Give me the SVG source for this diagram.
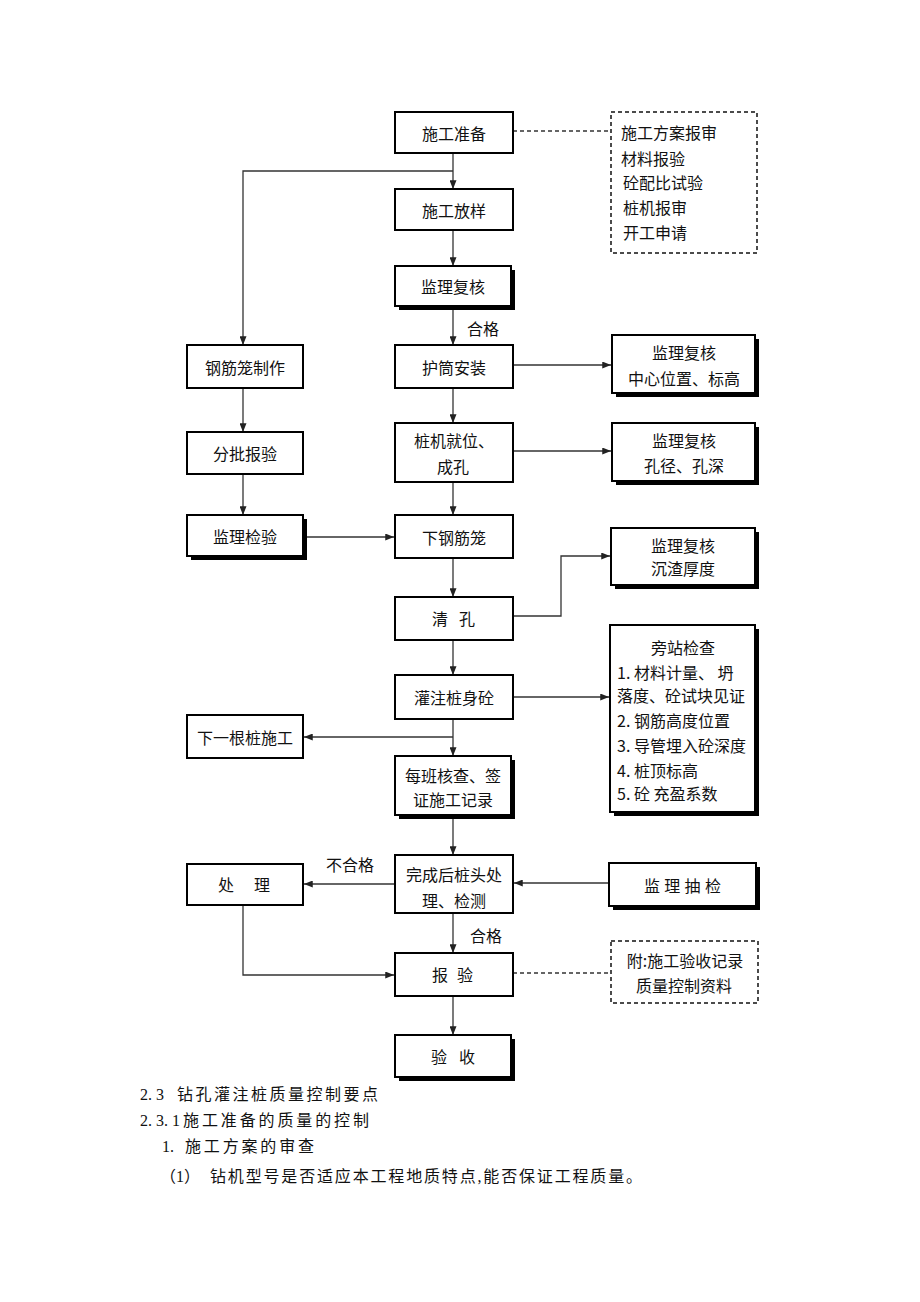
<svg xmlns="http://www.w3.org/2000/svg" width="920" height="1302" viewBox="0 0 920 1302">
<style>
.box{fill:#fff;stroke:#000;stroke-width:2}
.sh{fill:#000}
.dbox{fill:#fff;stroke:#111;stroke-width:1.5;stroke-dasharray:4 3}
.t{font-family:"Noto Sans CJK SC","Liberation Sans",sans-serif;font-size:16px;fill:#111;dominant-baseline:central}
.c{text-anchor:middle}
.ln{fill:none;stroke:#333;stroke-width:1.3}
.dl{fill:none;stroke:#333;stroke-width:1.3;stroke-dasharray:4 3}
.b{font-family:"Liberation Serif","Noto Sans CJK SC",serif;font-size:16px;fill:#111;dominant-baseline:central}
</style>
<defs>
<marker id="arr" viewBox="0 0 10 8" refX="10" refY="4" markerWidth="9" markerHeight="7" markerUnits="userSpaceOnUse" orient="auto">
<path d="M0,0 L10,4 L0,8 z" fill="#222"/>
</marker>
</defs>
<rect width="920" height="1302" fill="#fff"/>

<g id="connectors">
<line class="ln" x1="453" y1="153" x2="453" y2="189" marker-end="url(#arr)"/>
<polyline class="ln" points="453,171 243,171 243,345" marker-end="url(#arr)"/>
<line class="ln" x1="453" y1="230" x2="453" y2="266" marker-end="url(#arr)"/>
<line class="ln" x1="453" y1="306" x2="453" y2="345" marker-end="url(#arr)"/>
<line class="ln" x1="453" y1="388" x2="453" y2="423" marker-end="url(#arr)"/>
<line class="ln" x1="453" y1="482" x2="453" y2="515" marker-end="url(#arr)"/>
<line class="ln" x1="453" y1="558" x2="453" y2="597" marker-end="url(#arr)"/>
<line class="ln" x1="453" y1="640" x2="453" y2="675" marker-end="url(#arr)"/>
<line class="ln" x1="453" y1="719" x2="453" y2="756" marker-end="url(#arr)"/>
<line class="ln" x1="453" y1="737" x2="304" y2="737" marker-end="url(#arr)"/>
<line class="ln" x1="453" y1="815" x2="453" y2="855" marker-end="url(#arr)"/>
<line class="ln" x1="395" y1="884" x2="304" y2="884" marker-end="url(#arr)"/>
<line class="ln" x1="453" y1="913" x2="453" y2="953" marker-end="url(#arr)"/>
<polyline class="ln" points="243,905 243,975 394,975" marker-end="url(#arr)"/>
<line class="ln" x1="453" y1="996" x2="453" y2="1035" marker-end="url(#arr)"/>
<line class="ln" x1="243" y1="388" x2="243" y2="432" marker-end="url(#arr)"/>
<line class="ln" x1="243" y1="474" x2="243" y2="515" marker-end="url(#arr)"/>
<line class="ln" x1="307" y1="537" x2="394" y2="537" marker-end="url(#arr)"/>
<line class="ln" x1="513" y1="365" x2="611" y2="365" marker-end="url(#arr)"/>
<line class="ln" x1="513" y1="451" x2="611" y2="451" marker-end="url(#arr)"/>
<polyline class="ln" points="513,616 561,616 561,556 610,556" marker-end="url(#arr)"/>
<line class="ln" x1="513" y1="697" x2="609" y2="697" marker-end="url(#arr)"/>
<line class="ln" x1="609" y1="883" x2="514" y2="883" marker-end="url(#arr)"/>
<line class="dl" x1="513" y1="131" x2="611" y2="131"/>
<line class="dl" x1="513" y1="973" x2="611" y2="973"/>
<text class="t" x="467" y="328">合格</text>
<text class="t" x="470" y="935">合格</text>
<text class="t" x="326" y="864">不合格</text>
</g>

<g id="n-prep">
<rect class="box" x="395" y="112" width="118" height="41"/>
<text class="t c" x="454" y="133">施工准备</text>
</g>
<g id="n-prep-note">
<rect class="dbox" x="611" y="112" width="146" height="141"/>
<text class="t" x="621" y="132">施工方案报审</text>
<text class="t" x="621" y="158">材料报验</text>
<text class="t" x="623" y="182">砼配比试验</text>
<text class="t" x="623" y="207">桩机报审</text>
<text class="t" x="623" y="232">开工申请</text>
</g>
<g id="n-layout">
<rect class="box" x="395" y="189" width="118" height="41"/>
<text class="t c" x="454" y="210">施工放样</text>
</g>
<g id="n-check1">
<rect class="sh" x="399" y="270" width="116" height="40"/>
<rect class="box" x="395" y="266" width="116" height="40"/>
<text class="t c" x="453" y="286">监理复核</text>
</g>
<g id="n-cage">
<rect class="box" x="187" y="345" width="116" height="43"/>
<text class="t c" x="245" y="367">钢筋笼制作</text>
</g>
<g id="n-casing">
<rect class="box" x="395" y="345" width="118" height="43"/>
<text class="t c" x="454" y="367">护筒安装</text>
</g>
<g id="n-check-center">
<rect class="sh" x="616" y="339" width="143" height="58"/>
<rect class="box" x="612" y="335" width="143" height="58"/>
<text class="t c" x="684" y="352">监理复核</text>
<text class="t c" x="684" y="378">中心位置、标高</text>
</g>
<g id="n-batch">
<rect class="box" x="187" y="432" width="116" height="42"/>
<text class="t c" x="245" y="453">分批报验</text>
</g>
<g id="n-drill">
<rect class="box" x="395" y="423" width="118" height="59"/>
<text class="t c" x="454" y="440">桩机就位、</text>
<text class="t c" x="453" y="466">成孔</text>
</g>
<g id="n-check-hole">
<rect class="sh" x="616" y="427" width="143" height="58"/>
<rect class="box" x="612" y="423" width="143" height="58"/>
<text class="t c" x="684" y="440">监理复核</text>
<text class="t c" x="684" y="465">孔径、孔深</text>
</g>
<g id="n-inspect">
<rect class="sh" x="191" y="519" width="116" height="41"/>
<rect class="box" x="187" y="515" width="116" height="41"/>
<text class="t c" x="245" y="536">监理检验</text>
</g>
<g id="n-lower">
<rect class="box" x="395" y="515" width="118" height="43"/>
<text class="t c" x="454" y="537">下钢筋笼</text>
</g>
<g id="n-check-sed">
<rect class="sh" x="615" y="532" width="144" height="57"/>
<rect class="box" x="611" y="528" width="144" height="57"/>
<text class="t c" x="683" y="545">监理复核</text>
<text class="t c" x="683" y="568">沉渣厚度</text>
</g>
<g id="n-clean">
<rect class="box" x="395" y="597" width="118" height="43"/>
<text class="t" x="432" y="618" letter-spacing="11">清孔</text>
</g>
<g id="n-side">
<rect class="sh" x="614" y="629" width="145" height="187"/>
<rect class="box" x="610" y="625" width="145" height="187"/>
<text class="t c" x="683" y="647">旁站检查</text>
<text class="t" x="617" y="672">1. 材料计量、 坍</text>
<text class="t" x="617" y="695">落度、砼试块见证</text>
<text class="t" x="617" y="720">2. 钢筋高度位置</text>
<text class="t" x="617" y="745">3. 导管埋入砼深度</text>
<text class="t" x="617" y="770">4. 桩顶标高</text>
<text class="t" x="617" y="793">5. 砼 充盈系数</text>
</g>
<g id="n-pour">
<rect class="box" x="395" y="675" width="118" height="44"/>
<text class="t c" x="454" y="697">灌注桩身砼</text>
</g>
<g id="n-next">
<rect class="box" x="187" y="715" width="116" height="43"/>
<text class="t c" x="245" y="737">下一根桩施工</text>
</g>
<g id="n-shift">
<rect class="sh" x="399" y="760" width="116" height="59"/>
<rect class="box" x="395" y="756" width="116" height="59"/>
<text class="t c" x="453" y="775">每班核查、签</text>
<text class="t c" x="453" y="799">证施工记录</text>
</g>
<g id="n-treat">
<rect class="box" x="187" y="864" width="116" height="41"/>
<text class="t" x="218" y="884" letter-spacing="20">处理</text>
</g>
<g id="n-head">
<rect class="box" x="395" y="855" width="118" height="58"/>
<text class="t c" x="454" y="874">完成后桩头处</text>
<text class="t c" x="454" y="900">理、检测</text>
</g>
<g id="n-sample">
<rect class="sh" x="613" y="867" width="147" height="43"/>
<rect class="box" x="609" y="863" width="147" height="43"/>
<text class="t" x="644" y="885" letter-spacing="4.3">监理抽检</text>
</g>
<g id="n-report">
<rect class="box" x="395" y="953" width="118" height="43"/>
<text class="t" x="432" y="974" letter-spacing="9">报验</text>
</g>
<g id="n-report-note">
<rect class="dbox" x="611" y="941" width="147" height="62"/>
<text class="t c" x="685" y="960">附:施工验收记录</text>
<text class="t c" x="684" y="985">质量控制资料</text>
</g>
<g id="n-accept">
<rect class="sh" x="399" y="1039" width="116" height="42"/>
<rect class="box" x="395" y="1035" width="116" height="42"/>
<text class="t" x="431" y="1056" letter-spacing="12">验收</text>
</g>

<g id="body-text">
<text class="b" x="140" y="1094">2. 3</text>
<text class="b" x="177" y="1094" textLength="201" lengthAdjust="spacing">钻孔灌注桩质量控制要点</text>
<text class="b" x="140" y="1120">2. 3. 1</text>
<text class="b" x="183" y="1120" textLength="186" lengthAdjust="spacing">施工准备的质量的控制</text>
<text class="b" x="162" y="1146">1.</text>
<text class="b" x="185" y="1146" textLength="129" lengthAdjust="spacing">施工方案的审查</text>
<text class="b" x="160" y="1176">（1）</text>
<text class="b" x="210" y="1176" textLength="432" lengthAdjust="spacing">钻机型号是否适应本工程地质特点,能否保证工程质量。</text>
</g>
</svg>
